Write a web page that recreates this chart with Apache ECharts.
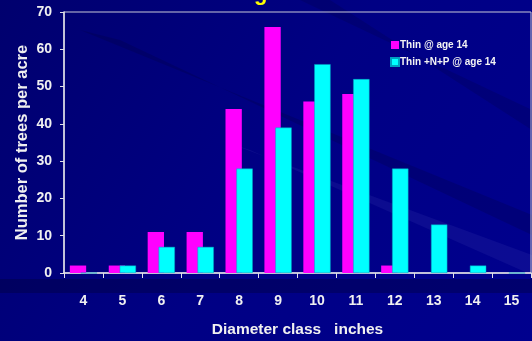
<!DOCTYPE html>
<html>
<head>
<meta charset="utf-8">
<script src="https://cdn.jsdelivr.net/npm/echarts@6/dist/echarts.min.js"></script>
<style>
html,body{margin:0;padding:0;background:#000085;}
#c{width:532px;height:341px;}
</style>
</head>
<body>
<div id="c"></div>
<script>
const categories = ['4','5','6','7','8','9','10','11','12','13','14','15'];
const thinAge14 = [2, 2, 11, 11, 44, 66, 46, 48, 2, 0, 0, 0];
const thinNPAge14 = [0, 2, 7, 7, 28, 39, 56, 52, 28, 13, 2, 0];
const seriesNames = ['Thin @ age 14', 'Thin +N+P @ age 14'];

const chart = echarts.init(document.getElementById('c'), null, {renderer: 'canvas'});
const font = 'Arial, "Liberation Sans", sans-serif';
chart.setOption({
  backgroundColor: {
    type: 'linear', x: 0, y: 0, x2: 1, y2: 1,
    colorStops: [
      {offset: 0, color: '#00006e'},
      {offset: 0.5, color: '#000084'},
      {offset: 1, color: '#00008e'}
    ]
  },
  graphic: [
    {type: 'polygon', silent: true, z: -10, shape: {points: [[532,215],[532,235],[120,40],[80,30]]}, style: {fill: 'rgba(0,0,40,0.18)'}},
    {type: 'polygon', silent: true, z: -10, shape: {points: [[532,255],[532,275],[250,150],[220,140]]}, style: {fill: 'rgba(120,120,220,0.10)'}},
    {type: 'polygon', silent: true, z: -10, shape: {points: [[532,110],[532,130],[330,0],[300,0]]}, style: {fill: 'rgba(0,0,50,0.18)'}},
    {type: 'rect', silent: true, z: -10, shape: {x: 0, y: 279, width: 532, height: 14}, style: {fill: 'rgba(0,0,40,0.3)'}}
  ],
  title: {
    text: 'g',
    left: 249, top: -22,
    textStyle: {color: '#ffff00', fontSize: 22, fontWeight: 'bold', fontFamily: font}
  },
  legend: {
    orient: 'vertical',
    left: 385, top: 35,
    itemWidth: 8, itemHeight: 8, itemGap: 7,
    icon: 'rect',
    textStyle: {color: '#f4f4f4', fontSize: 10, fontWeight: 'bold', fontFamily: font, padding: [0,0,0,-4]},
    data: seriesNames
  },
  grid: {
    left: 64, right: 1, top: 12, bottom: 68,
    outerBoundsMode: 'none',
    containLabel: false,
    show: true, borderColor: '#c8c8d8', borderWidth: 1, backgroundColor: 'transparent'
  },
  xAxis: {
    type: 'category',
    data: categories,
    boundaryGap: true,
    name: 'Diameter class   inches',
    nameLocation: 'middle',
    nameGap: 49,
    nameMoveOverlap: false,
    nameTextStyle: {color: '#f0f0f0', fontSize: 15.5, fontWeight: 'bold', fontFamily: font},
    axisLine: {lineStyle: {color: '#e0e0e8', width: 1.5}},
    axisTick: {show: true, length: 5, lineStyle: {color: '#e0e0e8'}},
    axisLabel: {color: '#f0f0f0', fontSize: 14, fontWeight: 'bold', fontFamily: font, margin: 21}
  },
  yAxis: {
    type: 'value',
    min: 0, max: 70, interval: 10,
    name: 'Number of trees per acre',
    nameLocation: 'middle',
    nameGap: 33,
    nameMoveOverlap: false,
    nameRotate: 90,
    nameTextStyle: {color: '#f0f0f0', fontSize: 16.5, fontWeight: 'bold', fontFamily: font},
    axisLine: {show: true, lineStyle: {color: '#e0e0e8', width: 1.5}},
    axisTick: {show: true, length: 4, lineStyle: {color: '#e0e0e8'}},
    splitLine: {show: false},
    axisLabel: {color: '#f0f0f0', fontSize: 14, fontWeight: 'bold', fontFamily: font, margin: 12}
  },
  series: [
    {
      name: seriesNames[0], type: 'bar', data: thinAge14,
      barGap: '-33%', barCategoryGap: '30%',
      itemStyle: {color: '#ff00ff'}
    },
    {
      name: seriesNames[1], type: 'bar', data: thinNPAge14,
      barGap: '-33%', barCategoryGap: '30%',
      itemStyle: {color: '#00ffff', borderColor: '#00a0c0', borderWidth: 0.5}
    }
  ],
  animation: false
});
</script>
</body>
</html>
